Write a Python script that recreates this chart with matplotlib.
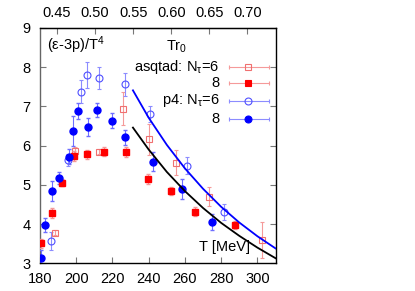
import matplotlib.pyplot as plt

plt.rcParams['font.family'] = ['Liberation Sans', 'DejaVu Sans']
plt.rcParams['mathtext.fontset'] = 'custom'
plt.rcParams['mathtext.rm'] = 'Liberation Sans'
plt.rcParams['mathtext.it'] = 'Liberation Sans'
plt.rcParams['mathtext.default'] = 'regular'

# asqtad N_tau=6 (open squares)
asq6_T = [188.3, 199.1, 212.4, 226.0, 240.3, 255.0, 273.5, 302.3]
asq6_v = [3.78, 5.87, 5.85, 6.94, 6.16, 5.57, 4.70, 3.59]
asq6_e = [0.06, 0.10, 0.06, 0.42, 0.40, 0.33, 0.24, 0.46]

# asqtad N_tau=8 (filled squares)
asq8_T = [180.4, 186.4, 192.1, 198.8, 205.8, 215.3, 227.3, 239.8, 252.3, 265.5, 287.6]
asq8_v = [3.51, 4.29, 5.06, 5.74, 5.78, 5.85, 5.83, 5.15, 4.84, 4.32, 3.98]
asq8_e = [0.12, 0.13, 0.10, 0.13, 0.12, 0.12, 0.13, 0.12, 0.10, 0.12, 0.10]

# p4 N_tau=6 (open circles)
p46_T = [186.1, 195.6, 202.6, 205.9, 212.7, 226.7, 240.5, 261.1, 281.5]
p46_v = [3.57, 5.63, 7.38, 7.80, 7.73, 7.56, 6.81, 5.49, 4.31]
p46_e = [0.22, 0.15, 0.30, 0.33, 0.28, 0.29, 0.20, 0.22, 0.20]

# p4 N_tau=8 (filled circles)
p48_T = [180.4, 182.8, 186.8, 190.7, 196.0, 198.4, 201.2, 206.3, 211.5, 219.6, 226.9, 242.6, 258.5, 274.7]
p48_v = [3.14, 3.98, 4.84, 5.18, 5.72, 6.37, 6.88, 6.48, 6.91, 6.64, 6.21, 5.59, 4.89, 4.06]
p48_e = [0.20, 0.18, 0.26, 0.15, 0.20, 0.38, 0.20, 0.23, 0.18, 0.20, 0.19, 0.24, 0.25, 0.20]

# fit curves
fit_T = [231.3, 240, 250, 260, 270, 280, 290, 300, 310]
fit6_v = [7.41, 6.71, 6.02, 5.42, 4.90, 4.44, 4.04, 3.69, 3.38]
fit8_v = [6.46, 5.90, 5.33, 4.84, 4.41, 4.03, 3.70, 3.40, 3.13]

top_ticks = [0.45, 0.50, 0.55, 0.60, 0.65, 0.70]
conv = 197.327 / 0.469

fig = plt.figure(figsize=(4.15, 2.91), dpi=100)
ax = fig.add_axes([0.0964, 0.0952, 0.5675, 0.8086])

light_red = '#f59a9a'
red = '#ff0000'
light_blue = '#8c8cff'
blue = '#0000ff'
ms_sq = 4.6
ms_c = 5.0

ax.errorbar(asq6_T, asq6_v, yerr=asq6_e, fmt='s', ms=ms_sq, mfc='none', mec='#f07070',
            mew=0.8, ecolor=light_red, elinewidth=0.8, capsize=1.5, zorder=3)
ax.errorbar(asq8_T, asq8_v, yerr=asq8_e, fmt='s', ms=ms_sq, mfc=red, mec=red,
            ecolor=light_red, elinewidth=0.8, capsize=1.5, zorder=4)
ax.errorbar(p46_T, p46_v, yerr=p46_e, fmt='o', ms=ms_c, mfc='none', mec='#5050ff',
            mew=0.8, ecolor=light_blue, elinewidth=0.8, capsize=1.5, zorder=3)
ax.errorbar(p48_T, p48_v, yerr=p48_e, fmt='o', ms=ms_c, mfc=blue, mec=blue,
            ecolor='#6e6eff', elinewidth=0.8, capsize=1.5, zorder=4)

ax.plot(fit_T, fit6_v, color=blue, lw=1.3, zorder=5)
ax.plot(fit_T, fit8_v, color='black', lw=1.3, zorder=5)

ax.set_xlim(180, 310)
ax.set_ylim(3, 9)
ax.set_xticks([180, 200, 220, 240, 260, 280, 300])
ax.set_yticks([3, 4, 5, 6, 7, 8, 9])
ax.tick_params(direction='in', length=4, color='#777777', labelsize=10.5,
               right=True, top=False)
ax.tick_params(axis='x', pad=6)
ax.tick_params(axis='y', pad=7)
for s in ax.spines.values():
    s.set_linewidth(1.0)
ax.spines['left'].set_color('#666666')

sec = ax.secondary_xaxis('top', functions=(lambda t: t / conv, lambda v: v * conv))
sec.set_xticks(top_ticks)
sec.set_xticklabels(['%.2f' % t for t in top_ticks])
sec.tick_params(direction='in', length=4, color='#777777', labelsize=10.5, pad=6)

ax.text(0.028, 0.928, r'(ε-3p)/T$^{4}$', transform=ax.transAxes, fontsize=10.5,
        ha='left', va='center')
ax.text(0.892, 0.068, 'T [MeV]', transform=ax.transAxes, fontsize=10.5,
        ha='right', va='center')
ax.text(0.58, 0.918, r'Tr$_{0}$', transform=ax.transAxes, fontsize=10.5,
        ha='center', va='center')

# legend, gnuplot style: text on the left, sample on the right
rows = [
    (0.8355, r'asqtad: N$_{τ}$=6', 's', 'none', '#f07070', light_red, ms_sq),
    (0.765, '8', 's', red, red, light_red, ms_sq),
    (0.691, r'p4: N$_{τ}$=6', 'o', 'none', '#5050ff', light_blue, ms_c),
    (0.612, '8', 'o', blue, blue, light_blue, ms_c),
]
for y, label, mk, fc, ec, lc, ms in rows:
    ax.text(0.761, y, label, transform=ax.transAxes, fontsize=10.5, ha='right', va='center')
    ax.plot([0.801, 0.971], [y, y], transform=ax.transAxes, color=lc, lw=0.8)
    ax.plot([0.801, 0.971], [y, y], transform=ax.transAxes, ls='none', marker='|',
            ms=3, mew=0.8, color=lc)
    ax.plot([0.885], [y], transform=ax.transAxes, marker=mk, ms=ms, mfc=fc, mec=ec,
            mew=0.8, ls='none')

plt.savefig('out.png', dpi=100)
